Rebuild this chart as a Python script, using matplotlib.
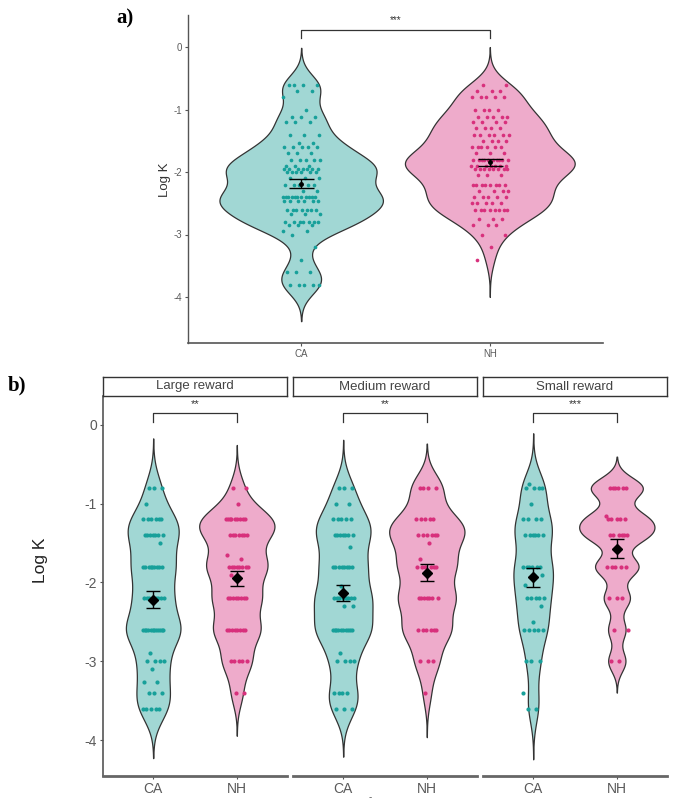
import numpy as np
import matplotlib
matplotlib.use("Agg")
import matplotlib.pyplot as plt

plt.rcParams['font.family'] = ['Liberation Sans', 'DejaVu Sans']

W, H = 685, 807

groups = ["CA", "NH"]
rewards = ["Large reward", "Medium reward", "Small reward"]

# ---- panel a data (levels / counts) ----
a_ca_levels = [-0.6, -0.7, -0.8, -1.0, -1.12, -1.2, -1.4, -1.53, -1.6, -1.7, -1.8, -1.9, -1.95, -2.0, -2.1,
               -2.2, -2.3, -2.4, -2.47, -2.6, -2.67, -2.8, -2.85, -2.95, -3.0, -3.2, -3.4, -3.6, -3.8]
a_ca_counts = [4, 2, 1, 1, 3, 3, 3, 2, 5, 3, 5, 3, 7, 6, 3, 5, 2, 11, 6, 7, 3, 7, 3, 2, 1, 1, 1, 3, 5]
a_nh_levels = [-0.6, -0.7, -0.8, -1.0, -1.12, -1.2, -1.3, -1.4, -1.5, -1.6, -1.7, -1.8, -1.9, -1.95, -2.05,
               -2.2, -2.3, -2.4, -2.5, -2.6, -2.75, -2.85, -3.0, -3.2, -3.4]
a_nh_counts = [2, 3, 5, 4, 5, 4, 4, 6, 4, 6, 3, 10, 7, 8, 3, 8, 4, 5, 5, 8, 3, 3, 2, 1, 1]
a_signif = "***"

# ---- panel b data ----
large_ca_levels = [-0.8, -1.0, -1.2, -1.4, -1.5, -1.8, -2.2, -2.6, -2.9, -3.0, -3.1, -3.26, -3.4, -3.6]
large_ca_counts = [3, 1, 6, 7, 1, 9, 8, 12, 1, 4, 1, 2, 3, 5]
large_nh_levels = [-0.8, -1.0, -1.2, -1.4, -1.65, -1.7, -1.8, -1.9, -2.2, -2.6, -3.0, -3.4]
large_nh_counts = [2, 1, 9, 7, 1, 1, 8, 1, 8, 8, 5, 2]
medium_ca_levels = [-0.8, -1.0, -1.2, -1.4, -1.55, -1.8, -2.05, -2.2, -2.3, -2.6, -2.9, -3.0, -3.4, -3.6]
medium_ca_counts = [3, 2, 5, 7, 1, 8, 1, 8, 2, 10, 1, 4, 4, 3]
medium_nh_levels = [-0.8, -1.2, -1.4, -1.5, -1.7, -1.8, -2.2, -2.6, -3.0, -3.4]
medium_nh_counts = [4, 5, 6, 1, 1, 6, 7, 6, 3, 1]
small_ca_levels = [-0.75, -0.8, -1.0, -1.2, -1.4, -1.8, -1.9, -2.03, -2.2, -2.3, -2.5, -2.6, -3.0, -3.4, -3.6]
small_ca_counts = [1, 4, 1, 4, 6, 6, 2, 1, 5, 1, 1, 5, 3, 1, 2]
small_nh_levels = [-0.8, -1.15, -1.2, -1.4, -1.8, -2.2, -2.6, -3.0]
small_nh_counts = [6, 1, 5, 6, 5, 3, 2, 2]
b_signif = ["**", "**", "***"]

fill_cols = {"CA": "#a1d7d4", "NH": "#eeabcb"}
pt_cols = {"CA": "#17a09a", "NH": "#d8307c"}
grey_txt = "#5a5a5a"
line_col = "#333333"


def expand(levels, counts):
    return np.repeat(np.array(levels, float), counts)


def nrd0(v):
    v = np.asarray(v)
    sd = v.std(ddof=1)
    iqr = np.subtract(*np.percentile(v, [75, 25]))
    lo = min(sd, iqr / 1.34) if iqr > 0 else sd
    return 0.9 * lo * len(v) ** (-0.2)


def density(v, bw):
    grid = np.linspace(v.min() - 3 * bw, v.max() + 3 * bw, 400)
    d = np.exp(-0.5 * ((grid[:, None] - v[None, :]) / bw) ** 2).sum(1) / (len(v) * bw * np.sqrt(2 * np.pi))
    return grid, d


def add_ax(l, t, r, b):
    return fig.add_axes([l / W, 1 - b / H, (r - l) / W, (b - t) / H])


def offsets(n, w):
    k = np.arange(n)
    return w * (2 * ((k * 0.6180339 + 0.31) % 1.0) - 1)


def draw_panel(ax, data, adjust, jit, pt_size, cap, mean_marker, mean_ms):
    dens = []
    for i, (g, v) in enumerate(data):
        bw = nrd0(v) * adjust
        grid, d = density(v, bw)
        dens.append((grid, d))
    dmax = max(d.max() for _, d in dens)
    for i, ((g, v), (grid, d)) in enumerate(zip(data, dens)):
        x = i + 1
        hw = 0.45 * d / dmax
        ax.fill_betweenx(grid, x - hw, x + hw, facecolor=fill_cols[g], edgecolor=line_col, lw=0.9, zorder=1)
        ax.scatter(x + offsets(len(v), jit), v, s=pt_size, color=pt_cols[g], lw=0, zorder=2)
        m = v.mean()
        se = v.std(ddof=1) / np.sqrt(len(v))
        ax.errorbar([x], [m], yerr=[se], fmt='none', ecolor='black', elinewidth=1.0, capsize=cap,
                    capthick=1.0, zorder=4)
        ax.plot([x], [m], marker=mean_marker, ms=mean_ms, color='black', zorder=5)


def style_axes(ax, left_spine=True, fs=7):
    for s in ["top", "right"]:
        ax.spines[s].set_visible(False)
    ax.spines["bottom"].set_color("#555555")
    ax.spines["left"].set_color("#555555")
    ax.spines["left"].set_visible(left_spine)
    ax.tick_params(colors="#555555", labelcolor=grey_txt, labelsize=fs, length=2.5, width=0.8, pad=2)
    ax.set_facecolor("none")


fig = plt.figure(figsize=(W / 100, H / 100), dpi=100)

# ---------------- panel a ----------------
axa = add_ax(188, 15, 603, 343)
data_a = [("CA", expand(a_ca_levels, a_ca_counts)), ("NH", expand(a_nh_levels, a_nh_counts))]
draw_panel(axa, data_a, adjust=0.9, jit=0.1, pt_size=7, cap=9, mean_marker='o', mean_ms=2.5)
axa.set_xlim(0.4, 2.6)
axa.set_ylim(-4.736, 0.512)
axa.set_xticks([1, 2])
axa.set_xticklabels(groups)
axa.set_yticks([0, -1, -2, -3, -4])
axa.set_yticklabels(["0", "-1", "-2", "-3", "-4"])
style_axes(axa, fs=7)
axa.spines["bottom"].set_linewidth(1.2)
axa.spines["left"].set_linewidth(1.0)
axa.plot([1, 1, 2, 2], [0.14, 0.27, 0.27, 0.14], color=line_col, lw=0.9)
axa.text(1.5, 0.43, a_signif, ha='center', va='center', fontsize=7, color=line_col)
fig.text(165 / W, 1 - 180 / H, "Log K", rotation=90, ha='center', va='center', fontsize=9.5, color="#333333")
fig.text(116 / W, 1 - 18 / H, "a)", family="Liberation Serif", weight="bold", fontsize=15,
         ha='left', va='center', color='black')

# ---------------- panel b ----------------
b_data = [
    [("CA", expand(large_ca_levels, large_ca_counts)), ("NH", expand(large_nh_levels, large_nh_counts))],
    [("CA", expand(medium_ca_levels, medium_ca_counts)), ("NH", expand(medium_nh_levels, medium_nh_counts))],
    [("CA", expand(small_ca_levels, small_ca_counts)), ("NH", expand(small_nh_levels, small_nh_counts))],
]
facet_x = [(103, 287), (293, 477), (483, 667)]
for j, (l, r) in enumerate(facet_x):
    ax = add_ax(l, 396, r, 776)
    draw_panel(ax, b_data[j], adjust=0.65, jit=0.13, pt_size=9, cap=5, mean_marker='D', mean_ms=5)
    ax.set_xlim(0.4, 2.6)
    ax.set_ylim(-4.457, 0.368)
    ax.set_xticks([1, 2])
    ax.set_xticklabels(groups)
    style_axes(ax, left_spine=(j == 0), fs=10)
    ax.spines["bottom"].set_linewidth(2.0)
    ax.spines["bottom"].set_color("#666666")
    ax.spines["left"].set_linewidth(1.2)
    if j == 0:
        ax.set_yticks([0, -1, -2, -3, -4])
        ax.set_yticklabels(["0", "-1", "-2", "-3", "-4"])
    else:
        ax.set_yticks([])
    ax.plot([1, 1, 2, 2], [0.04, 0.15, 0.15, 0.04], color=line_col, lw=0.9)
    ax.text(1.5, 0.27, b_signif[j], ha='center', va='center', fontsize=8, color=line_col)
    # strip
    sax = add_ax(l, 377, r, 396)
    sax.set_xticks([])
    sax.set_yticks([])
    for s in sax.spines.values():
        s.set_color("#333333")
        s.set_linewidth(1.0)
    sax.text(0.5, 0.5, rewards[j], ha='center', va='center', fontsize=9.5, color="#444444",
             transform=sax.transAxes)

fig.text(40 / W, 1 - 560 / H, "Log K", rotation=90, ha='center', va='center', fontsize=12.5, color="#222222")
fig.text(370 / W, 1 - 797 / H, "-", ha='center', va='center', fontsize=7, color="#555555")
fig.text(8 / W, 1 - 385 / H, "b)", family="Liberation Serif", weight="bold", fontsize=15,
         ha='left', va='center', color='black')

fig.savefig("out.png", dpi=100)
